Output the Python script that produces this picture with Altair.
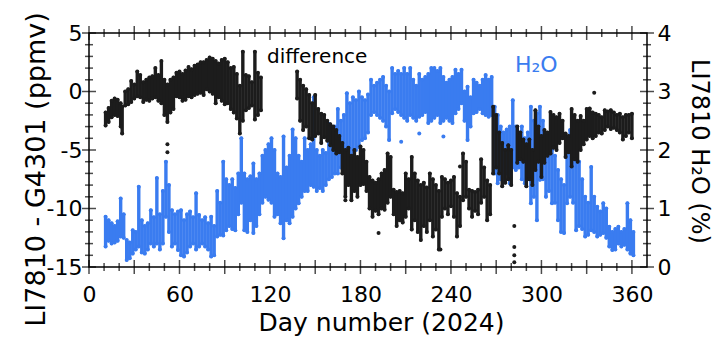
import altair as alt
import pandas as pd

W, H = 558, 234
FONT = "DejaVu Sans"
BLUE = "#3a7cf0"
BLACK = "#1c1c1c"

# ---- difference series (ppmv), per-day low / high extent of the point cloud ----
diff_day = [11, 13, 15, 17, 19, 21, 22, 24, 26, 28,
            30, 32, 34, 36, 38, 40, 42, 44, 46, 48,
            50, 52, 54, 56, 58, 60, 62, 64, 66, 68,
            70, 72, 74, 76, 78, 80, 82, 84, 86, 88,
            90, 92, 94, 96, 98, 100, 102, 104, 106, 108,
            110, 112, 114, 138, 140, 142, 144, 146, 148, 150,
            152, 154, 156, 158, 160, 162, 164, 166, 168, 170,
            172, 174, 176, 178, 180, 182, 184, 186, 188, 190,
            192, 194, 196, 198, 200, 202, 204, 206, 208, 210,
            212, 214, 216, 218, 220, 222, 224, 226, 228, 230,
            232, 234, 236, 238, 240, 242, 244, 246, 248, 250,
            252, 254, 256, 258, 260, 262, 264, 266, 268, 270,
            272, 274, 276, 278, 280, 284, 286, 288, 290, 292,
            294, 296, 298, 300, 302, 304, 306, 308, 310, 312,
            314, 316, 318, 320, 322, 324, 326, 328, 330, 332,
            334, 336, 338, 340, 342, 344, 346, 348, 350, 352,
            354, 356, 358, 360]
diff_lo = [-2.9, -2.6, -2.2, -2.0, -2.1, -3.0, -3.6, -1.2, -1.1, -0.9,
           -0.6, -0.4, -0.5, -0.9, -0.7, -0.8, -0.6, -0.5, -0.8, -1.0,
           -2.0, -2.6, -1.8, -1.5, -0.4, -0.5, -0.8, -0.7, -0.4, -0.5,
           -0.3, -0.2, -0.1, -0.3, 0.2, 0.0, -0.2, -1.0, -0.5, -0.8,
           -1.1, -1.0, -1.5, -1.8, -2.3, -3.6, -2.5, -1.6, -1.4, -1.2,
           -2.4, -2.0, -1.6, -0.6, -2.5, -3.3, -3.0, -4.0, -4.1, -3.8,
           -3.6, -4.4, -3.9, -4.2, -4.6, -5.0, -5.3, -5.2, -7.0, -9.0,
           -8.0, -9.3, -8.5, -9.0, -8.0, -7.9, -8.5, -10.0, -10.7, -10.2,
           -10.5, -10.0, -10.1, -9.5, -9.0, -10.5, -11.5, -11.0, -11.2, -10.7,
           -10.0, -11.8, -11.0, -12.0, -12.7, -11.5, -12.0, -11.0, -12.4, -11.8,
           -13.5, -10.7, -10.0, -10.5, -9.8, -10.7, -12.4, -11.5, -9.3, -9.0,
           -10.0, -10.7, -10.2, -10.5, -9.5, -9.0, -11.0, -10.5, -7.0, -6.5,
           -7.0, -8.1, -7.8, -7.5, -8.0, -6.1, -5.8, -6.0, -8.1, -7.5,
           -8.0, -6.7, -6.0, -7.3, -6.1, -5.5, -5.3, -4.8, -5.0, -4.4,
           -4.0, -5.6, -5.2, -6.4, -5.8, -6.0, -5.0, -4.5, -4.1, -3.8,
           -4.0, -3.8, -3.5, -3.6, -3.3, -3.0, -3.2, -3.1, -3.3, -3.5,
           -4.1, -3.8, -3.5, -4.0]
diff_hi = [-1.8, -1.4, -0.8, -0.6, -0.7, -1.0, -1.3, 0.0, 0.2, 0.9,
           0.6, 1.7, 1.4, 0.8, 1.0, 1.2, 1.3, 2.0, 1.4, 2.6,
           1.0, 0.6, 1.0, 1.2, 1.6, 1.7, 1.5, 1.8, 2.1, 1.9,
           2.2, 2.3, 2.5, 2.5, 2.7, 2.9, 2.8, 2.6, 2.4, 2.7,
           2.8, 2.5, 2.0, 2.1, 1.5, 0.5, 3.4, 1.4, 1.3, 0.8,
           3.4, 1.6, 1.2, 1.7, 1.0, 0.5, 0.2, -0.3, -1.0, -0.3,
           -1.5, -1.9, -2.0, -2.5, -2.8, -3.0, -3.3, -3.8, -4.4, -5.0,
           -4.8, -5.5, -5.0, -5.6, -4.7, -5.0, -6.0, -7.3, -7.6, -7.8,
           -7.5, -7.0, -6.7, -5.3, -5.6, -8.4, -8.6, -8.5, -8.7, -7.0,
           -7.5, -5.6, -7.0, -7.6, -8.0, -7.8, -8.2, -7.0, -7.5, -8.0,
           -8.5, -7.3, -7.5, -7.8, -7.6, -7.3, -8.7, -9.0, -5.3, -6.0,
           -8.4, -8.5, -8.6, -8.4, -5.8, -6.5, -7.6, -8.0, -1.3, -2.0,
           -3.5, -4.4, -5.0, -4.6, -5.0, -3.0, -3.5, -4.1, -4.5, -4.1,
           -5.0, -1.6, -3.0, -3.8, -3.3, -3.5, -1.75, -2.0, -2.2, -1.9,
           -2.5, -3.6, -3.8, -1.5, -2.0, -2.5, -2.1, -2.5, -1.5, -1.45,
           -1.8, -1.9, -2.0, -2.2, -1.6, -1.7, -1.6, -1.8, -2.0, -1.9,
           -2.2, -2.0, -2.0, -1.9]
diff_out_day = [52, 52, 170, 192, 233, 246, 282, 282, 282, 282, 335]
diff_out_val = [-4.5, -5.2, -9.3, -12.1, -13.5, -6.4, -11.5, -13.3, -14.0, -14.6, -0.1]

# ---- H2O series (%), per-day low / high extent ----
h2o_day = list(range(11, 362, 2))
h2o_lo = [0.35, 0.45, 0.40, 0.42, 0.45, 0.52, 0.50, 0.12, 0.15, 0.23,
          0.30, 0.35, 0.25, 0.23, 0.30, 0.40, 0.35, 0.40, 0.30, 0.40,
          0.86, 0.60, 0.35, 0.40, 0.29, 0.20, 0.18, 0.25, 0.35, 0.40,
          0.30, 0.35, 0.40, 0.35, 0.30, 0.18, 0.20, 0.52, 0.55, 0.54,
          0.63, 0.70, 0.65, 0.63, 0.90, 1.10, 0.63, 0.60, 0.80, 0.58,
          0.70, 0.90, 1.10, 1.20, 1.15, 1.10, 0.86, 0.90, 0.75, 0.49,
          0.80, 0.75, 0.86, 1.00, 1.09, 1.20, 1.30, 1.30, 1.40, 1.37,
          1.30, 1.35, 1.30, 1.40, 1.50, 1.54, 1.60, 1.60, 1.70, 1.65,
          1.77, 1.85, 1.90, 2.00, 2.05, 2.17, 2.20, 2.30, 2.60, 2.65,
          2.60, 2.55, 2.50, 2.40, 2.17, 2.63, 2.70, 2.65, 2.60, 2.55,
          2.50, 2.60, 2.55, 2.50, 2.57, 2.60, 2.65, 2.46, 2.50, 2.55,
          2.60, 2.46, 2.50, 2.55, 2.50, 2.46, 2.63, 2.70, 2.80, 2.50,
          2.17, 2.40, 2.63, 2.65, 2.70, 2.63, 2.60, 2.57, 2.60, 1.60,
          1.43, 1.50, 1.45, 1.60, 1.43, 1.70, 1.66, 1.70, 1.50, 1.43,
          1.50, 1.09, 1.20, 0.80, 1.49, 1.50, 1.20, 1.30, 1.09, 1.10,
          0.80, 0.60, 0.58, 1.09, 1.20, 1.10, 0.63, 0.70, 0.65, 0.52,
          0.55, 0.63, 0.60, 0.52, 0.55, 0.58, 0.50, 0.35, 0.29, 0.30,
          0.40, 0.35, 0.38, 0.30, 0.23, 0.20]
h2o_hi = [0.86, 0.80, 0.75, 0.70, 0.78, 1.17, 0.90, 0.46, 0.42, 0.63,
          0.60, 1.37, 0.80, 0.70, 0.75, 0.97, 0.85, 1.52, 0.90, 1.30,
          1.80, 1.40, 0.97, 0.90, 0.95, 0.97, 0.80, 0.90, 0.95, 0.85,
          1.26, 0.89, 0.80, 0.85, 0.75, 0.86, 0.70, 1.30, 1.10, 1.80,
          1.50, 1.40, 1.50, 1.35, 1.60, 2.20, 1.60, 1.50, 1.55, 1.77,
          1.50, 1.60, 1.90, 2.00, 2.10, 2.20, 2.00, 1.60, 1.54, 2.23,
          1.70, 1.90, 2.35, 2.20, 1.90, 1.80, 2.20, 2.00, 2.10, 2.90,
          2.00, 1.90, 2.00, 1.95, 2.45, 2.30, 2.40, 2.70, 2.50, 2.60,
          2.97, 2.80, 2.90, 2.85, 3.00, 2.90, 2.85, 2.95, 3.20, 3.10,
          3.15, 3.20, 3.25, 3.10, 3.00, 3.40, 3.30, 3.35, 3.30, 3.40,
          3.30, 3.40, 3.20, 3.10, 3.30, 3.20, 3.25, 3.30, 3.40, 3.40,
          3.35, 3.40, 3.25, 3.15, 3.20, 3.25, 3.37, 3.30, 3.37, 3.00,
          3.08, 2.90, 3.20, 3.15, 3.10, 3.20, 3.28, 3.20, 3.25, 2.74,
          2.60, 2.40, 2.30, 2.35, 2.40, 2.85, 2.40, 2.30, 2.40, 2.20,
          2.30, 2.74, 2.50, 2.63, 2.74, 2.50, 2.28, 2.10, 2.00, 1.90,
          1.66, 1.50, 1.40, 2.00, 2.34, 2.00, 1.94, 1.80, 1.50, 1.20,
          1.10, 1.71, 1.20, 1.03, 0.95, 1.09, 1.00, 0.69, 0.60, 0.65,
          0.69, 0.60, 0.65, 1.09, 0.80, 0.60]
h2o_out_day = [207, 219, 235]
h2o_out_val = [2.14, 2.28, 2.23]

# ---- axis ticks ----
x_labels = [0, 60, 120, 180, 240, 300, 360]
x_major = [0, 30, 60, 90, 120, 150, 180, 210, 240, 270, 300, 330, 360]
x_minor = [10, 20, 40, 50, 70, 80, 100, 110, 130, 140, 160, 170, 190, 200,
           220, 230, 250, 260, 280, 290, 310, 320, 340, 350]
left_major = [-15, -10, -5, 0, 5]
left_minor = [-14, -13, -12, -11, -9, -8, -7, -6, -4, -3, -2, -1, 1, 2, 3, 4]
right_major = [0, 1, 2, 3, 4]
right_minor = [0.2, 0.4, 0.6, 0.8, 1.2, 1.4, 1.6, 1.8, 2.2, 2.4, 2.6, 2.8,
               3.2, 3.4, 3.6, 3.8]

diff = pd.DataFrame({"day": diff_day, "lo": diff_lo, "hi": diff_hi})
diff_out = pd.DataFrame({"day": diff_out_day, "v": diff_out_val})
h2o = pd.DataFrame({"day": h2o_day, "lo": h2o_lo, "hi": h2o_hi})
h2o_out = pd.DataFrame({"day": h2o_out_day, "v": h2o_out_val})

xscale = alt.Scale(domain=[0, 370], nice=False, zero=False)
lscale = alt.Scale(domain=[-15, 5], nice=False, zero=False)
rscale = alt.Scale(domain=[0, 4], nice=False, zero=False)

x_axis = alt.Axis(values=x_labels, ticks=False, domain=False, grid=False, labelFlush=False,
                  labelFont=FONT, labelFontSize=22, labelColor="black",
                  labelPadding=17, title="Day number (2024)", titleFont=FONT,
                  titleFontSize=25, titleFontWeight="normal", titleColor="black",
                  titleX=292, titleY=63, titleBaseline="alphabetic", titleAlign="center")
l_axis = alt.Axis(orient="left", values=left_major, ticks=False, domain=False, grid=False,
                  labelFlush=False,
                  labelFont=FONT, labelFontSize=22, labelColor="black", labelPadding=7,
                  labelExpr="'' + datum.value",
                  title="LI7810 - G4301 (ppmv)", titleFont=FONT, titleFontSize=27,
                  titleFontWeight="normal", titleColor="black", titleAngle=270,
                  titleX=-53, titleY=136, titleAlign="center", titleBaseline="middle")
r_axis = alt.Axis(orient="right", values=right_major, ticks=False, domain=False, grid=False,
                  labelFlush=False,
                  labelFont=FONT, labelFontSize=22, labelColor="black", labelPadding=10,
                  title="LI7810 H₂O (%)", titleFont=FONT, titleFontSize=24,
                  titleFontWeight="normal", titleColor="black", titleAngle=90,
                  titleX=51, titleY=118, titleAlign="center", titleBaseline="middle")

xa = alt.X("day:Q", scale=xscale, axis=x_axis)


def ly(field):
    return alt.Y(field, scale=lscale, axis=l_axis)


def ry(field):
    return alt.Y(field, scale=rscale, axis=r_axis)


# blue layers (right scale)
b_rule = alt.Chart(h2o).mark_rule(strokeWidth=3.4, strokeCap="round", color=BLUE).encode(
    x=xa, y=ry("lo:Q"), y2="hi:Q")
b_lo = alt.Chart(h2o).mark_circle(size=16, color=BLUE, opacity=1).encode(x=xa, y=ry("lo:Q"))
b_hi = alt.Chart(h2o).mark_circle(size=16, color=BLUE, opacity=1).encode(x=xa, y=ry("hi:Q"))
b_out = alt.Chart(h2o_out).mark_circle(size=16, color=BLUE, opacity=1).encode(x=xa, y=ry("v:Q"))
r_tmaj = alt.Chart(pd.DataFrame({"t": right_major})).mark_tick(
    orient="horizontal", size=14, thickness=1.5, color="black").encode(
    x=alt.value(W), y=ry("t:Q"))
r_tmin = alt.Chart(pd.DataFrame({"t": right_minor})).mark_tick(
    orient="horizontal", size=8, thickness=1.5, color="black").encode(
    x=alt.value(W), y=ry("t:Q"))
h2o_txt = alt.Chart(pd.DataFrame({"t": ["H₂O"]})).mark_text(
    font=FONT, fontSize=22, color=BLUE, align="left", baseline="alphabetic").encode(
    x=alt.value(426), y=alt.value(39), text="t:N")
blue_layer = alt.layer(b_rule, b_lo, b_hi, b_out, r_tmaj, r_tmin, h2o_txt)

# black layers (left scale)
k_rule = alt.Chart(diff).mark_rule(strokeWidth=3.4, strokeCap="round", color=BLACK).encode(
    x=xa, y=ly("lo:Q"), y2="hi:Q")
k_lo = alt.Chart(diff).mark_circle(size=16, color=BLACK, opacity=1).encode(x=xa, y=ly("lo:Q"))
k_hi = alt.Chart(diff).mark_circle(size=16, color=BLACK, opacity=1).encode(x=xa, y=ly("hi:Q"))
k_out = alt.Chart(diff_out).mark_circle(size=16, color=BLACK, opacity=1).encode(x=xa, y=ly("v:Q"))
l_tmaj = alt.Chart(pd.DataFrame({"t": left_major})).mark_tick(
    orient="horizontal", size=14, thickness=1.5, color="black").encode(
    x=alt.value(0), y=ly("t:Q"))
l_tmin = alt.Chart(pd.DataFrame({"t": left_minor})).mark_tick(
    orient="horizontal", size=8, thickness=1.5, color="black").encode(
    x=alt.value(0), y=ly("t:Q"))
tick_layers = []
for vals, sz in ((x_major, 14), (x_minor, 8)):
    for ypos in (0, H):
        tick_layers.append(
            alt.Chart(pd.DataFrame({"day": vals})).mark_tick(
                orient="vertical", size=sz, thickness=1.5, color="black").encode(
                x=xa, y=alt.value(ypos)))
diff_txt = alt.Chart(pd.DataFrame({"t": ["difference"]})).mark_text(
    font=FONT, fontSize=20, color="black", align="left", baseline="alphabetic").encode(
    x=alt.value(178), y=alt.value(30), text="t:N")
black_layer = alt.layer(k_rule, k_lo, k_hi, k_out, l_tmaj, l_tmin, *tick_layers, diff_txt)

chart = alt.layer(blue_layer, black_layer).resolve_scale(y="independent").properties(
    width=W, height=H,
    autosize=alt.AutoSizeParams(type="none"),
    padding={"left": 81, "top": 25, "right": 65, "bottom": 69},
).configure_view(stroke="black", strokeWidth=1.5)

chart.save("out.html", embed_options={"renderer": "svg", "actions": False})
